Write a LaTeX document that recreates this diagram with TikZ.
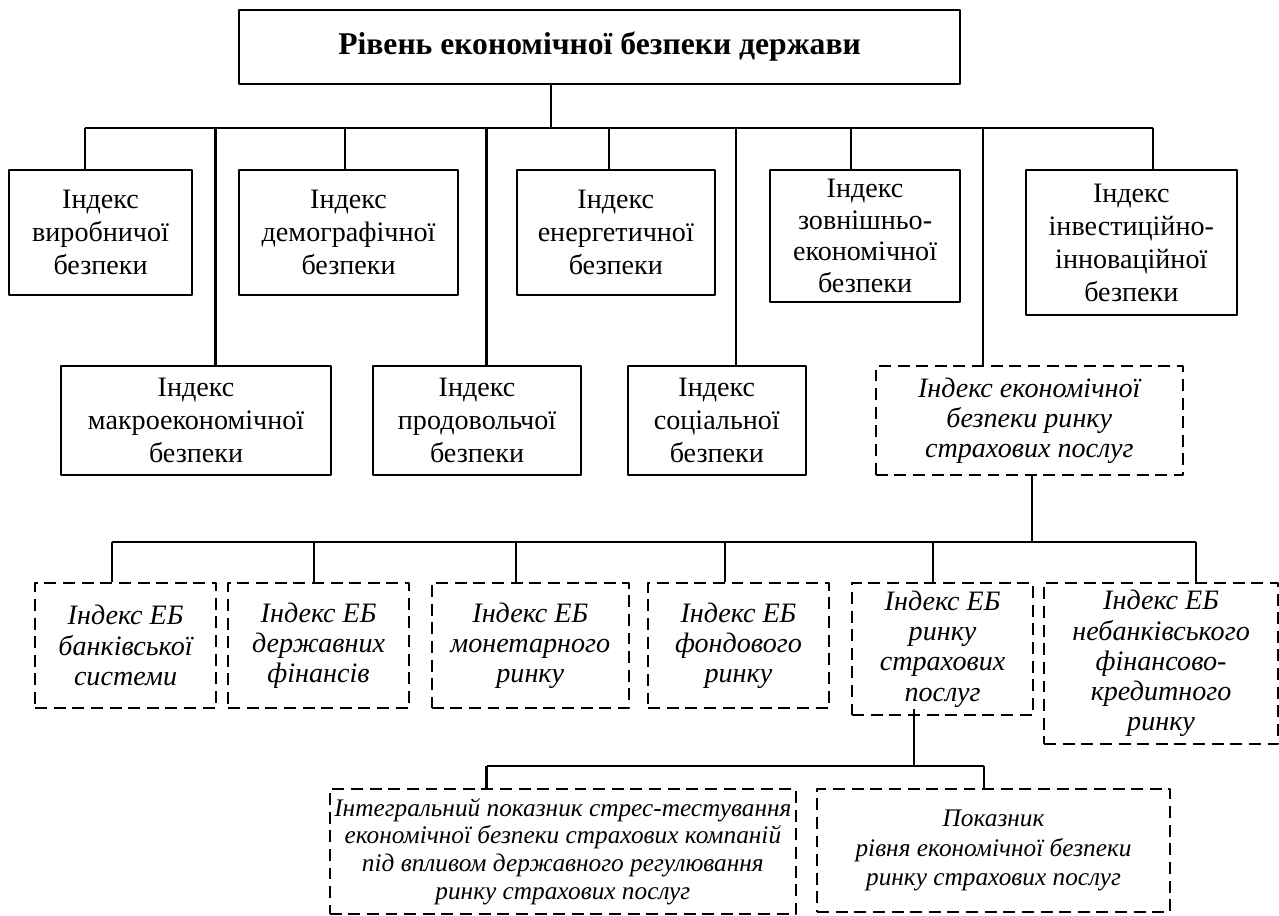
\documentclass[tikz,border=0pt]{standalone}
\usepackage{fontspec}
\setmainfont{Liberation Serif}
\begin{document}
\begin{tikzpicture}[line join=round,line width=.6pt,font=\fontsize{8}{9.4}\selectfont,scale=1]
	\tikzset{
		hop/.style={draw,align=center,inner sep=1pt,anchor=north west},
		hopdut/.style={hop,dash pattern=on 3.4pt off 1.9pt,font=\fontsize{8}{8.6}\selectfont\itshape}
	}
	\useasboundingbox (0,0) rectangle (12.79,-9.16);
	\node[hop,minimum width=7.21cm,minimum height=.74cm,font=\fontsize{9}{11}\selectfont\bfseries] (goc) at (2.38,-.09) {Рівень економічної безпеки держави};
	\node[hop,minimum width=1.83cm,minimum height=1.25cm] (vyr) at (.08,-1.69) {Індекс\\виробничої\\безпеки};
	\node[hop,minimum width=2.19cm,minimum height=1.25cm] (dem) at (2.38,-1.69) {Індекс\\демографічної\\безпеки};
	\node[hop,minimum width=1.975cm,minimum height=1.25cm] (ene) at (5.16,-1.69) {Індекс\\енергетичної\\безпеки};
	\node[hop,minimum width=1.9cm,minimum height=1.32cm,font=\fontsize{8}{9}\selectfont] (zov) at (7.69,-1.69) {Індекс\\зовнішньо-\\економічної\\безпеки};
	\node[hop,minimum width=2.115cm,minimum height=1.45cm] (inv) at (10.245,-1.69) {Індекс\\інвестиційно-\\інноваційної\\безпеки};
	\node[hop,minimum width=2.7cm,minimum height=1.09cm] (mac) at (.6,-3.65) {Індекс\\макроекономічної\\безпеки};
	\node[hop,minimum width=2.08cm,minimum height=1.09cm] (pro) at (3.72,-3.65) {Індекс\\продовольчої\\безпеки};
	\node[hop,minimum width=1.785cm,minimum height=1.09cm] (soc) at (6.265,-3.65) {Індекс\\соціальної\\безпеки};
	\node[hopdut,minimum width=3.07cm,minimum height=1.09cm] (rsp) at (8.747,-3.65) {Індекс економічної\\безпеки ринку\\страхових послуг};
	\node[hopdut,minimum width=1.81cm,minimum height=1.25cm] (ban) at (.34,-5.82) {Індекс ЕБ\\банківської\\системи};
	\node[hopdut,minimum width=1.81cm,minimum height=1.25cm] (dfi) at (2.27,-5.82) {Індекс ЕБ\\державних\\фінансів};
	\node[hopdut,minimum width=1.972cm,minimum height=1.25cm] (mon) at (4.306,-5.82) {Індекс ЕБ\\монетарного\\ринку};
	\node[hopdut,minimum width=1.808cm,minimum height=1.25cm] (fon) at (6.47,-5.82) {Індекс ЕБ\\фондового\\ринку};
	\node[hopdut,minimum width=1.81cm,minimum height=1.32cm] (stp) at (8.51,-5.82) {Індекс ЕБ\\ринку\\страхових\\послуг};
	\node[hopdut,minimum width=2.34cm,minimum height=1.61cm] (neb) at (10.43,-5.82) {Індекс ЕБ\\небанківського\\фінансово-\\кредитного\\ринку};
	\node[hopdut,minimum width=4.664cm,minimum height=1.25cm,font=\fontsize{7.2}{7.9}\selectfont\itshape] (int) at (3.286,-7.88) {Інтегральний показник стрес-тестування\\економічної безпеки страхових компаній\\під впливом державного регулювання\\ринку страхових послуг};
	\node[hopdut,minimum width=3.53cm,minimum height=1.23cm,font=\fontsize{7.2}{8.4}\selectfont\itshape] (pok) at (8.16,-7.88) {Показник\\рівня економічної безпеки\\ринку страхових послуг};
	\coordinate (t1) at (5.51,-1.28);
	\coordinate (l1) at (.85,-1.28);
	\coordinate (r1) at (11.53,-1.28);
	\draw (t1) -- (t1 |- goc.south);
	\draw (l1) -- (r1);
	\foreach \x/\o in {.85/vyr,2.155/mac,3.45/dem,4.865/pro,6.09/ene,7.36/soc,8.506/zov,9.83/rsp,11.53/inv}{
		\draw (\x,-1.28) -- (\x,-1.28 |- \o.north);
	}
	\coordinate (t3) at (10.32,-5.42);
	\coordinate (l3) at (1.12,-5.42);
	\coordinate (r3) at (11.96,-5.42);
	\draw (t3) -- (t3 |- rsp.south);
	\draw (l3) -- (r3);
	\foreach \x/\o in {1.12/ban,3.14/dfi,5.16/mon,7.25/fon,9.33/stp,11.96/neb}{
		\draw (\x,-5.42) -- (\x,-5.42 |- \o.north);
	}
	\coordinate (t4) at (9.14,-7.66);
	\coordinate (l4) at (4.865,-7.66);
	\coordinate (r4) at (9.837,-7.66);
	\draw (t4) -- (t4 |- ban.south);
	\draw (l4) -- (r4);
	\foreach \x/\o in {4.865/int,9.837/pok}{
		\draw (\x,-7.66) -- (\x,-7.66 |- \o.north);
	}
\end{tikzpicture}
\end{document}
